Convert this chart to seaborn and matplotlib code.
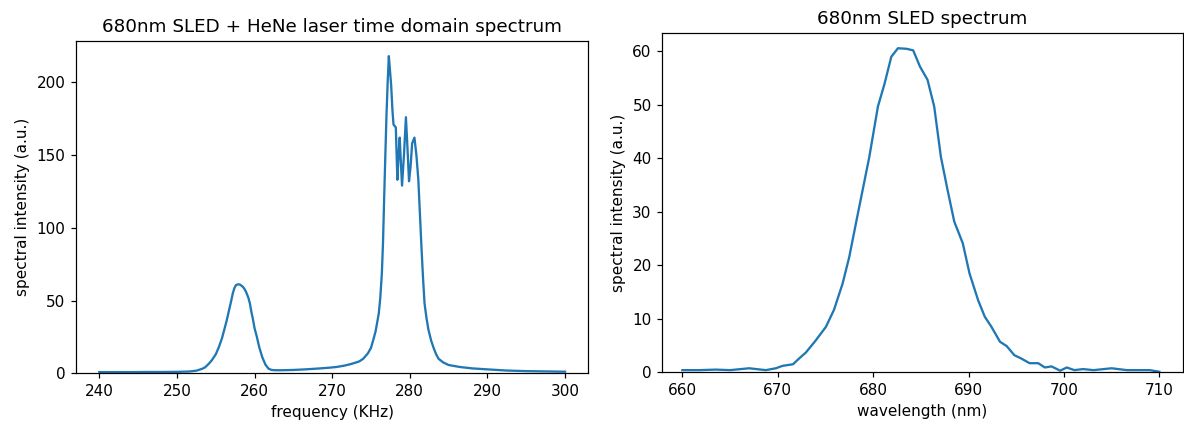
import matplotlib
matplotlib.use("Agg")
import matplotlib.pyplot as plt
import seaborn as sns
import pandas as pd

# Time-domain spectrum: SLED band plus HeNe laser line (frequency in kHz)
freq_khz = [
    240, 242, 244, 246, 248, 250, 251.5, 252.5, 253.2, 253.6, 254.1, 254.5,
    255, 255.4, 255.8, 256.1, 256.4, 256.7, 257, 257.2, 257.4, 257.6, 257.9,
    258.1, 258.3, 258.5, 258.7, 258.9, 259.2, 259.4, 259.6, 259.8, 260.0,
    260.3, 260.6, 261.0, 261.4, 261.8, 262.2, 262.7, 263.5, 265, 266.5, 268,
    269.5, 270.5, 271.5, 272.3, 273, 273.5, 274, 274.6, 275, 275.3, 275.6,
    275.8, 276, 276.2, 276.4, 276.55, 276.7, 276.85, 277, 277.15, 277.3,
    277.45, 277.6, 277.75, 277.9, 278.05, 278.2, 278.4, 278.55, 278.7,
    278.85, 279.0, 279.25, 279.5, 279.7, 279.9, 280.1, 280.3, 280.6, 280.85,
    281.1, 281.3, 281.5, 281.7, 281.9, 282.15, 282.4, 282.75, 283.1, 283.4,
    283.7, 284.3, 285, 286.5, 288, 290, 292.5, 295, 297.5, 300,
]
freq_intensity = [
    0.8, 0.8, 0.8, 0.9, 0.9, 1.0, 1.2, 1.8, 3, 4, 6.5, 9,
    13, 18, 24, 30, 36, 43, 50, 55, 58.5, 60.6, 61.2,
    61, 60.3, 59.4, 58, 56, 52, 48, 42, 37, 31,
    25, 18, 11, 6, 3.2, 2.3, 2.1, 2.1, 2.3, 2.7, 3.2,
    3.8, 4.3, 5.2, 6.2, 7.3, 8.2, 10, 13.7, 17.5, 23, 29,
    35, 41, 52, 68.6, 90, 121, 150, 178, 200, 218,
    208, 198, 182, 171, 170, 169, 133, 150, 162,
    145, 129, 150, 176, 155, 132, 142, 158, 162, 150,
    133, 110, 87, 66, 48, 38, 30, 22.5, 17, 13,
    10, 7.5, 5.7, 4.3, 3.4, 2.7, 1.9, 1.5, 1.3, 1.1,
]

# Optical spectrum of the 680 nm SLED (wavelength in nm)
wavelength_nm = [
    660, 661.75, 663.5, 665, 667, 668.75, 669.8, 670.5, 671.6, 672.25,
    672.95, 674, 675.05, 675.9, 676.8, 677.5, 678.2, 678.9, 679.6, 680.5,
    681.2, 681.9, 682.6, 683.5, 684.2, 684.9, 685.7, 686.4, 687.1, 687.8,
    688.5, 689.4, 690.1, 691, 691.7, 692.4, 693.3, 694, 694.8, 695.5,
    696.4, 697.3, 698, 698.7, 699.6, 700.3, 701.1, 702, 703.1, 705,
    706.6, 709, 710,
]
sled_intensity = [
    0.4, 0.4, 0.5, 0.4, 0.75, 0.4, 0.75, 1.2, 1.5, 2.6,
    3.7, 6, 8.5, 11.7, 16.6, 21.6, 27.9, 34.1, 40.3, 49.7,
    54, 59, 60.6, 60.5, 60.2, 57.2, 54.7, 49.7, 40.3, 34.1,
    28.2, 24.1, 18.5, 13.5, 10.4, 8.5, 5.7, 4.9, 3.2, 2.6,
    1.7, 1.7, 0.9, 1.1, 0.3, 0.9, 0.4, 0.6, 0.4, 0.75,
    0.4, 0.4, 0.1,
]

line_color = "#1f77b4"
DPI = 110

fig = plt.figure(figsize=(1184 / DPI, 426 / DPI), dpi=DPI)
ax_freq = fig.add_axes([0.0642, 0.1237, 0.4327, 0.7808])
ax_wl = fig.add_axes([0.5594, 0.1261, 0.4395, 0.7958])

freq_df = pd.DataFrame({"frequency": freq_khz, "intensity": freq_intensity})
sns.lineplot(data=freq_df, x="frequency", y="intensity", ax=ax_freq,
             color=line_color, linewidth=1.5)
ax_freq.set_xlim(237, 303)
ax_freq.set_ylim(0, 228.6)
ax_freq.set_xticks([240, 250, 260, 270, 280, 290, 300])
ax_freq.set_yticks([0, 50, 100, 150, 200])
ax_freq.set_title("680nm SLED + HeNe laser time domain spectrum", fontsize=12)
ax_freq.set_xlabel("frequency (KHz)", fontsize=10)
ax_freq.set_ylabel("spectral intensity (a.u.)", fontsize=10)

wl_df = pd.DataFrame({"wavelength": wavelength_nm, "intensity": sled_intensity})
sns.lineplot(data=wl_df, x="wavelength", y="intensity", ax=ax_wl,
             color=line_color, linewidth=1.5)
ax_wl.set_xlim(657.9, 712.45)
ax_wl.set_ylim(0, 63.4)
ax_wl.set_xticks([660, 670, 680, 690, 700, 710])
ax_wl.set_yticks([0, 10, 20, 30, 40, 50, 60])
ax_wl.set_title("680nm SLED spectrum", fontsize=12)
ax_wl.set_xlabel("wavelength (nm)", fontsize=10)
ax_wl.set_ylabel("spectral intensity (a.u.)", fontsize=10)

for ax in (ax_freq, ax_wl):
    ax.tick_params(labelsize=10)

fig.savefig("out.png", dpi=DPI)
